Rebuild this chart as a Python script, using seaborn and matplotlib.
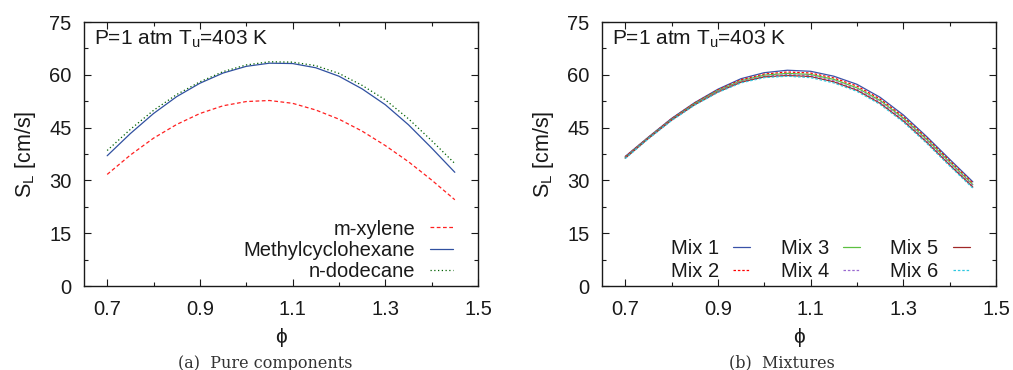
import numpy as np
import pandas as pd
import matplotlib
matplotlib.use("Agg")
import matplotlib.pyplot as plt
import seaborn as sns
from matplotlib.ticker import MultipleLocator

phi = [0.70, 0.75, 0.80, 0.85, 0.90, 0.95, 1.00, 1.05, 1.10, 1.15, 1.20, 1.25, 1.30, 1.35, 1.40, 1.45]

# Pure components
m_xylene = [31.7, 37.2, 42.0, 45.9, 49.0, 51.2, 52.4, 52.7, 51.9, 50.0, 47.4, 44.0, 39.9, 35.3, 30.1, 24.5]
methylcyclohexane = [37.0, 43.3, 49.0, 53.8, 57.6, 60.5, 62.4, 63.3, 63.2, 62.0, 59.6, 56.0, 51.5, 45.8, 39.2, 32.3]
n_dodecane = [38.5, 44.5, 49.9, 54.4, 58.0, 60.9, 62.8, 63.7, 63.6, 62.6, 60.4, 57.0, 52.9, 47.5, 41.3, 34.8]

# Mixtures
mix1 = [36.8, 42.3, 47.6, 52.1, 55.9, 58.9, 60.6, 61.3, 61.0, 59.6, 57.3, 53.6, 48.6, 42.5, 36.0, 29.6]
mix2 = [36.7, 42.2, 47.5, 52.0, 55.7, 58.6, 60.2, 60.8, 60.5, 59.1, 56.8, 53.1, 48.1, 42.1, 35.6, 29.2]
mix3 = [36.5, 42.1, 47.3, 51.8, 55.5, 58.3, 59.9, 60.4, 60.1, 58.7, 56.3, 52.7, 47.7, 41.7, 35.2, 28.8]
mix4 = [36.4, 42.0, 47.2, 51.6, 55.3, 58.1, 59.6, 60.1, 59.8, 58.3, 55.9, 52.3, 47.3, 41.3, 34.8, 28.5]
mix5 = [36.3, 41.9, 47.1, 51.5, 55.1, 57.9, 59.4, 59.8, 59.5, 58.0, 55.6, 51.9, 46.9, 40.9, 34.4, 28.1]
mix6 = [36.2, 41.8, 47.0, 51.4, 55.0, 57.7, 59.2, 59.6, 59.2, 57.7, 55.3, 51.6, 46.6, 40.6, 34.1, 27.8]

pure_labels = ["m-xylene", "Methylcyclohexane", "n-dodecane"]
mix_labels = ["Mix 1", "Mix 2", "Mix 3", "Mix 4", "Mix 5", "Mix 6"]
x_ticks = [0.7, 0.9, 1.1, 1.3, 1.5]
y_ticks = [0, 15, 30, 45, 60, 75]

sns.set_style("ticks")
plt.rcParams['font.family'] = ['Liberation Sans', 'DejaVu Sans']
plt.rcParams['mathtext.fontset'] = 'custom'
plt.rcParams['mathtext.rm'] = 'Liberation Sans'
plt.rcParams['mathtext.it'] = 'Liberation Sans'

FS = 14.5
TXT = '#1a1a1a'

fig = plt.figure(figsize=(10.13, 3.70), dpi=100)
axL = fig.add_axes([84/1013, 84/370, 394/1013, 264/370])
axR = fig.add_axes([602/1013, 84/370, 394/1013, 264/370])

pure_series = [m_xylene, methylcyclohexane, n_dodecane]
pure_styles = [("#ff2020", (0, (3, 2))), ("#3050a0", "-"), ("#006000", (0, (1, 2)))]
for lab, vals, (c, ls) in zip(pure_labels, pure_series, pure_styles):
    sns.lineplot(x=phi, y=vals, ax=axL, color=c, linestyle=ls, linewidth=0.9, label=lab)

mix_series = [mix1, mix2, mix3, mix4, mix5, mix6]
mix_styles = [("#3a52a8", "-"), ("#ff0000", (0, (2, 1.5))), ("#5cc040", "-"),
              ("#9a6ad0", (0, (2, 1.5))), ("#a02828", "-"), ("#30c8e0", (0, (2, 1.5)))]
for lab, vals, (c, ls) in zip(mix_labels, mix_series, mix_styles):
    sns.lineplot(x=phi, y=vals, ax=axR, color=c, linestyle=ls, linewidth=0.9, label=lab)

for ax in (axL, axR):
    ax.set_xlim(0.65, 1.5)
    ax.set_ylim(0, 75)
    ax.set_xticks(x_ticks)
    ax.set_xticklabels([f"{v:.1f}" for v in x_ticks])
    ax.set_yticks(y_ticks)
    ax.xaxis.set_minor_locator(MultipleLocator(0.1))
    ax.yaxis.set_minor_locator(MultipleLocator(7.5))
    ax.tick_params(which='both', direction='in', top=True, right=True, labelsize=FS,
                   colors=TXT, labelcolor=TXT, width=0.8)
    ax.tick_params(which='major', length=5)
    ax.tick_params(which='minor', length=3)
    ax.tick_params(axis='y', pad=9)
    ax.tick_params(axis='x', pad=10)
    for s in ax.spines.values():
        s.set_visible(True)
        s.set_linewidth(1.0)
        s.set_color(TXT)
    ax.set_xlabel(r"$\phi$", fontsize=15, labelpad=5, family='DejaVu Sans', color=TXT)
    ax.set_ylabel(r"S$_\mathregular{L}$ [cm/s]", fontsize=15.5, labelpad=8, color=TXT)
    ax.text(0.025, 0.935, r"P=1 atm T$_\mathregular{u}$=403 K", transform=ax.transAxes,
            fontsize=FS + 0.5, va='center', ha='left', color=TXT)

legL = axL.legend(loc='lower right', frameon=False, markerfirst=False, fontsize=FS,
                  handlelength=1.15, handletextpad=0.72, labelspacing=0.12,
                  borderaxespad=0.0, bbox_to_anchor=(0.957, -0.013))
legR = axR.legend(loc='lower right', ncol=3, frameon=False, markerfirst=False, fontsize=FS,
                  handlelength=0.85, handletextpad=0.7, labelspacing=0.2, columnspacing=1.5,
                  borderaxespad=0.0, bbox_to_anchor=(0.954, -0.013))
for leg in (legL, legR):
    for t in leg.get_texts():
        t.set_color(TXT)

fig.text(265/1013, 1 - 363/370, "(a)  Pure components", ha='center', va='center',
         fontsize=11.5, family='DejaVu Serif', color='#333333')
fig.text(782/1013, 1 - 363/370, "(b)  Mixtures", ha='center', va='center',
         fontsize=11.5, family='DejaVu Serif', color='#333333')

fig.savefig("out.png", dpi=100)
